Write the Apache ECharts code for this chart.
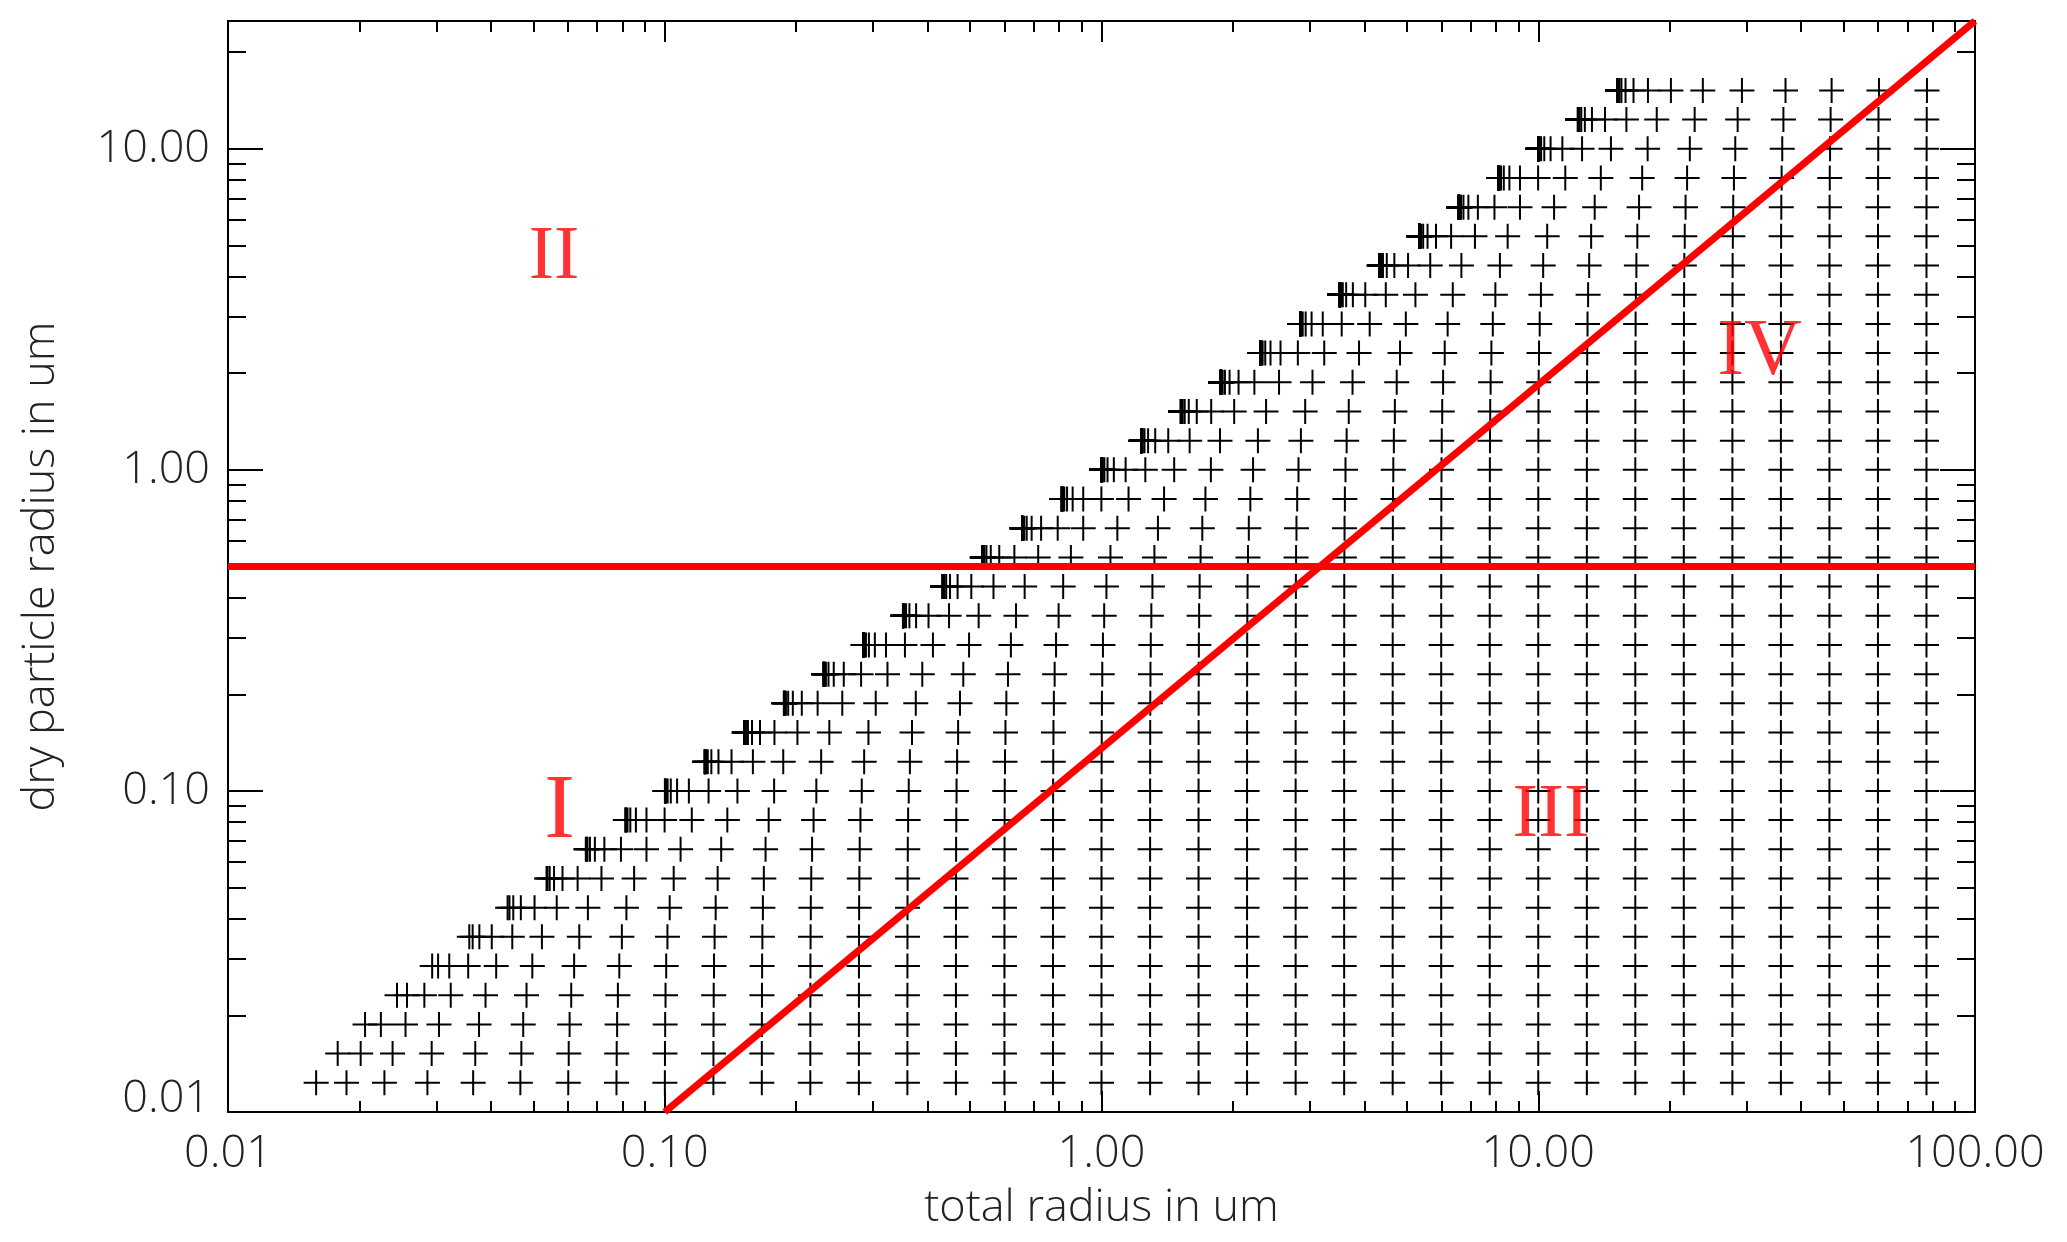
<!DOCTYPE html>
<html><head><meta charset="utf-8">
<script src="https://cdn.jsdelivr.net/npm/echarts@6/dist/echarts.min.js"></script>
<style>html,body{margin:0;padding:0;background:#fff}#c{width:2067px;height:1242px}</style>
</head><body><div id="c"></div>
<script>
// Dry particle radii (rows, um): 11 rows per decade
const dryRadius = [0.01233,0.01520,0.01874,0.02310,0.02848,0.03511,0.04329,0.05337,0.06579,0.08111,
  0.1000,0.1233,0.1520,0.1874,0.2310,0.2848,0.3511,0.4329,0.5337,0.6579,0.8111,
  1.000,1.233,1.520,1.874,2.310,2.848,3.511,4.329,5.337,6.579,8.111,10.00,12.33,15.20];
// Water-equivalent radii (columns far right, um): 9 per decade
const waterRadius = [0.01292,0.01668,0.02154,0.02783,0.03594,0.04642,0.05995,0.07743,0.1000,
  0.1292,0.1668,0.2154,0.2783,0.3594,0.4642,0.5995,0.7743,1.000,
  1.292,1.668,2.154,2.783,3.594,4.642,5.995,7.743,10.00,
  12.92,16.68,21.54,27.83,35.94,46.42,59.95,77.43];
const xTickValues = [0.01,0.1,1,10,100];
const yTickValues = [0.01,0.1,1,10];
const xRange = [0.01,100];
const yRange = [0.01,25];
const limitLineX = [0.01,100];
const limitLineY = [0.5,0.5];
const diagLineX = [0.1,100];
const diagLineY = [0.01,25];
const regionNames = ['I','II','III','IV'];
const regionX = [0.0574,0.0558,10.7,32.1];
const regionY = [0.0853,4.57,0.0835,2.31];
const regionFontSize = [92,76,77,80];

// total radius = cube root of (dry volume + water volume)
const points = [];
dryRadius.forEach(function(rd){
  waterRadius.forEach(function(w){
    points.push([Math.cbrt(rd*rd*rd + w*w*w), rd]);
  });
});

function minorTicks(lo, hi){
  const out=[];
  for(let d=-3; d<=3; d++){
    for(let m=2;m<=9;m++){
      const v = m*Math.pow(10,d);
      if(v>lo*1.0001 && v<hi*0.9999) out.push(v);
    }
  }
  return out;
}
const xMinor = minorTicks(xRange[0], xRange[1]);
const yMinor = minorTicks(yRange[0], yRange[1]);

const FONT = '"Open Sans", "DejaVu Sans", sans-serif';
const FW = 300;
const TXT = '#222';
const lineCol = '#000';

function mkAxis(kind, pos, ticks, len, withLine, withLabel, range){
  const ax = {
    type:'log', logBase:10, min:range[0], max:range[1], position:pos,
    splitLine:{show:false},
    axisLine:{show:withLine, onZero:false, lineStyle:{color:lineCol,width:2}},
    axisTick:{show:true, inside:true, length:len, customValues:ticks, lineStyle:{color:lineCol,width:2}},
    axisLabel:{show:false}
  };
  if(withLabel){
    ax.axisLabel = {
      show:true, customValues:ticks, color:TXT, fontFamily:FONT, fontWeight:FW, fontSize:45,
      margin: kind==='x' ? 20 : 18,
      formatter: function(v){
        const s = Number(v).toFixed(2);
        if(kind==='y' && Math.abs(v-0.01)<1e-6) return '{lo|'+s+'}';
        return s;
      },
      rich:{lo:{fontFamily:FONT, fontWeight:FW, fontSize:45, color:TXT, padding:[0,0,26,0]}}
    };
  }
  return ax;
}

const xAxes = [
  Object.assign(mkAxis('x','bottom',xTickValues,21,true,true,xRange),{
    name:'total radius in um', nameLocation:'middle', nameGap:74,
    nameTextStyle:{fontFamily:FONT, fontWeight:FW, fontSize:45, color:TXT}
  }),
  mkAxis('x','bottom',xMinor,11,false,false,xRange),
  mkAxis('x','top',xTickValues,21,true,false,xRange),
  mkAxis('x','top',xMinor,11,false,false,xRange)
];
const yAxes = [
  Object.assign(mkAxis('y','left',yTickValues,35,true,true,yRange),{
    name:'dry particle radius in um', nameLocation:'middle', nameGap:164,
    nameTextStyle:{fontFamily:FONT, fontWeight:FW, fontSize:45, color:TXT}
  }),
  mkAxis('y','left',yMinor,18,false,false,yRange),
  mkAxis('y','right',yTickValues,35,true,false,yRange),
  mkAxis('y','right',yMinor,18,false,false,yRange)
];

const chart = echarts.init(document.getElementById('c'), null, {renderer:'canvas'});
chart.setOption({
  backgroundColor:'#fff',
  animation:false,
  grid:{left:228, right:92, top:21, bottom:130, containLabel:false, outerBoundsMode:'none'},
  xAxis:xAxes,
  yAxis:yAxes,
  series:[
    {
      type:'scatter', silent:true, xAxisIndex:0, yAxisIndex:0,
      symbol:'path://M0,-1L0,1M-1,0L1,0', symbolSize:25,
      itemStyle:{color:'#000', borderColor:'#000', borderWidth:2, opacity:1},
      data:points, z:2
    },
    {
      type:'line', silent:true, xAxisIndex:0, yAxisIndex:0, symbol:'none', clip:false,
      lineStyle:{color:'#ff0000', width:7},
      data:limitLineX.map(function(x,i){return [x, limitLineY[i]];}), z:3
    },
    {
      type:'line', silent:true, xAxisIndex:0, yAxisIndex:0, symbol:'none', clip:false,
      lineStyle:{color:'#ff0000', width:7},
      data:diagLineX.map(function(x,i){return [x, diagLineY[i]];}), z:3
    },
    {
      type:'scatter', silent:true, xAxisIndex:0, yAxisIndex:0,
      symbol:'circle', symbolSize:1, itemStyle:{color:'rgba(0,0,0,0)'},
      data:regionNames.map(function(n,i){
        return {value:[regionX[i], regionY[i]], name:n,
          label:{fontSize:regionFontSize[i]}};
      }),
      label:{show:true, position:'inside', formatter:'{b}', color:'#ff0000',
        fontFamily:'Liberation Serif', fontSize:78, align:'center', verticalAlign:'middle'},
      z:4
    }
  ]
});
</script></body></html>
